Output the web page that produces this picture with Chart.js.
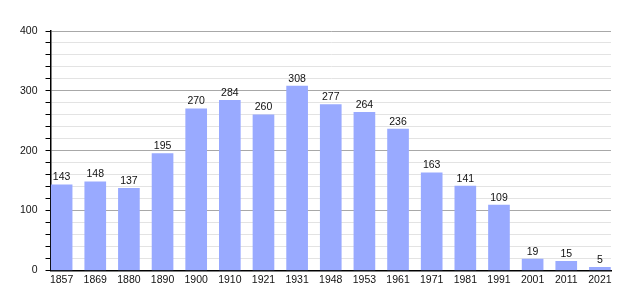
<!DOCTYPE html>
<html>
<head>
<meta charset="utf-8">
<script src="https://cdn.jsdelivr.net/npm/chart.js@4/dist/chart.umd.min.js"></script>
<style>
  html, body { margin: 0; padding: 0; background: #fff; }
  #wrap { width: 640px; height: 300px; }
</style>
</head>
<body>
<div id="wrap"><canvas id="chart" width="640" height="300"></canvas></div>
<script>
// data
var years = ['1857', '1869', '1880', '1890', '1900', '1910', '1921', '1931', '1948', '1953', '1961', '1971', '1981', '1991', '2001', '2011', '2021'];
var population = [143, 148, 137, 195, 270, 284, 260, 308, 277, 264, 236, 163, 141, 109, 19, 15, 5];
var yTicks = [0, 100, 200, 300, 400];

// value labels over the bars
var barLabels = {
  id: 'barLabels',
  afterDatasetsDraw: function(chart) {
    var ctx = chart.ctx;
    var meta = chart.getDatasetMeta(0);
    ctx.save();
    ctx.font = '10.5px "Liberation Sans", Arial, sans-serif';
    ctx.fillStyle = '#111';
    ctx.textAlign = 'center';
    ctx.textBaseline = 'bottom';
    meta.data.forEach(function(bar, i) {
      ctx.fillText(String(population[i]), bar.x, bar.y - 2);
    });
    ctx.restore();
  }
};

var grafico = new Chart(document.getElementById('chart'), {
  type: 'bar',
  data: {
    datasets: [{
      data: population.map(function(v, i) { return { x: i, y: v }; }),
      backgroundColor: '#99aaff',
      borderWidth: 0,
      barThickness: 21
    }]
  },
  options: {
    responsive: false,
    animation: false,
    layout: { padding: { top: 31, right: 29, left: 12, bottom: 11 } },
    plugins: { legend: { display: false }, tooltip: { enabled: false } },
    scales: {
      x: {
        type: 'linear',
        offset: false,
        min: -0.33,
        max: 16.33,
        afterBuildTicks: function(s) {
          s.ticks = years.map(function(_, i) { return { value: i }; });
        },
        ticks: {
          autoSkip: false,
          maxRotation: 0,
          padding: 3,
          color: '#111',
          font: { family: '"Liberation Sans", Arial, sans-serif', size: 10.5 },
          callback: function(v) { return years[v]; }
        },
        grid: { display: false, drawTicks: false, offset: false },
        border: { display: true, color: '#000', width: 1.5 }
      },
      y: {
        min: 0,
        max: 400,
        ticks: {
          stepSize: 20,
          autoSkip: false,
          padding: 8,
          color: '#111',
          font: { family: '"Liberation Sans", Arial, sans-serif', size: 10.5 },
          callback: function(v) { return yTicks.indexOf(v) >= 0 ? v : ''; }
        },
        grid: {
          color: function(c) { return c.tick && c.tick.value % 100 === 0 ? '#a8a8a8' : '#e3e3e3'; },
          tickColor: '#000',
          tickLength: 5
        },
        border: { display: true, color: '#000', width: 1.5 }
      }
    }
  },
  plugins: [barLabels]
});
</script>
</body>
</html>
